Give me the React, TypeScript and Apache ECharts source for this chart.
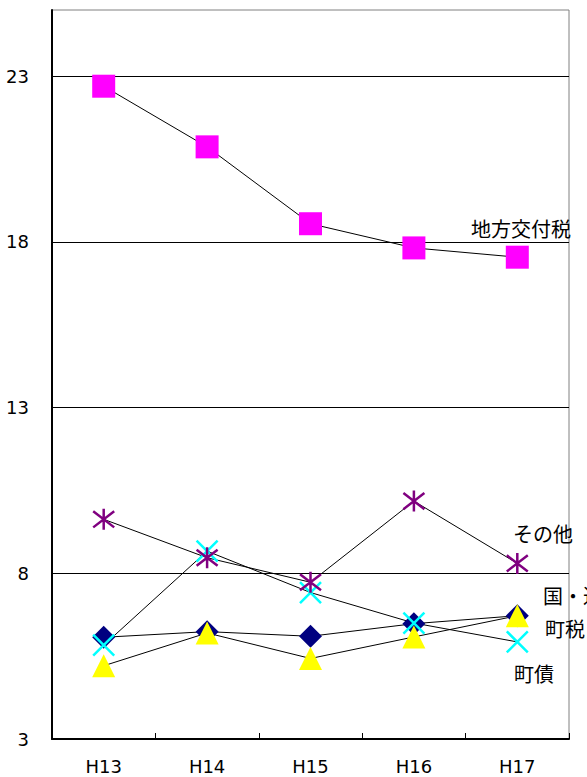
import React, { useEffect, useRef } from "react";
import * as echarts from "echarts";

const categories = ["H13", "H14", "H15", "H16", "H17"];
const yTicks = { min: 3, max: 25, interval: 5 };

const seriesNames = ["町税", "地方交付税", "国・道支出金", "町債", "その他"];
const chozei = [6.07, 6.24, 6.1, 6.48, 6.72];
const chihoKofuzei = [22.7, 20.87, 18.55, 17.82, 17.54];
const kokuDoShishutsukin = [5.21, 6.2, 5.43, 6.08, 6.72];
const chosai = [5.83, 8.67, 7.42, 6.5, 5.93];
const sonota = [9.63, 8.47, 7.73, 10.18, 8.3];

// label anchor positions (pixels) for the right-side series names
const labelPos = [
  { name: "地方交付税", x: 471, y: 228 },
  { name: "その他", x: 513, y: 533 },
  { name: "国・道支出金", x: 543, y: 595 },
  { name: "町税", x: 545, y: 628 },
  { name: "町債", x: 514, y: 673 },
];

const CJK = '"Noto Sans CJK JP", "Noto Sans", sans-serif';

export default function App() {
  const ref = useRef<HTMLDivElement>(null);
  useEffect(() => {
    if (!ref.current) return;
    const chart = echarts.init(ref.current, undefined, { renderer: "svg" });

    const datasets = [
      { name: seriesNames[0], data: chozei, symbol: "diamond", size: 23, fill: "#000080", stroke: null as string | null },
      { name: seriesNames[1], data: chihoKofuzei, symbol: "rect", size: 23, fill: "#FF00FF", stroke: null },
      { name: seriesNames[2], data: kokuDoShishutsukin, symbol: "triangle", size: 23, fill: "#FFFF00", stroke: null },
      { name: seriesNames[3], data: chosai, symbol: "path://M0,0L10,10M10,0L0,10", size: 21, fill: "transparent", stroke: "#00FFFF" },
      { name: seriesNames[4], data: sonota, symbol: "path://M0,0L10,10M10,0L0,10M5,-1.5L5,11.5", size: 21, fill: "transparent", stroke: "#800080" },
    ];

    const lineSeries = datasets.map((d) => ({
      type: "line",
      name: d.name + "-line",
      data: d.data,
      symbol: "none",
      lineStyle: { color: "#000", width: 1 },
      z: 2,
      silent: true,
    }));
    const markerSeries = datasets.map((d, i) => ({
      type: "scatter",
      name: d.name,
      data: d.data,
      symbol: d.symbol,
      symbolSize: d.size,
      itemStyle: d.stroke
        ? { color: "transparent", borderColor: d.stroke, borderWidth: 2.5, opacity: 1 }
        : { color: d.fill, opacity: 1 },
      z: 3 + i,
    }));

    chart.setOption({
      animation: false,
      backgroundColor: "#fff",
      grid: {
        left: 52,
        right: 18,
        top: 10,
        bottom: 38,
        show: true,
        borderColor: "#808080",
        borderWidth: 1,
        backgroundColor: "transparent",
      },
      xAxis: {
        type: "category",
        data: categories,
        boundaryGap: true,
        axisLine: { show: true, lineStyle: { color: "#000", width: 2 } },
        axisTick: { show: true, inside: true, length: 6, lineStyle: { color: "#000", width: 1 } },
        axisLabel: {
          color: "#000",
          fontSize: 18,
          fontFamily: '"DejaVu Sans", sans-serif',
          margin: 18,
        },
        splitLine: { show: false },
      },
      yAxis: {
        type: "value",
        min: yTicks.min,
        max: yTicks.max,
        interval: yTicks.interval,
        axisLine: { show: true, lineStyle: { color: "#000", width: 2 } },
        axisTick: { show: false },
        axisLabel: {
          color: "#000",
          fontSize: 18,
          fontFamily: '"DejaVu Sans", sans-serif',
          margin: 23,
          formatter: (v: number) => (v === yTicks.max ? "" : String(v)),
        },
        splitLine: { show: true, showMinLine: false, showMaxLine: false, lineStyle: { color: "#000", width: 1 } },
      },
      series: [...lineSeries, ...markerSeries],
      graphic: labelPos.map((l) => ({
        type: "text",
        x: l.x,
        y: l.y,
        z: 100,
        style: {
          text: l.name,
          fill: "#000",
          fontSize: 20,
          fontFamily: CJK,
          align: "left",
          verticalAlign: "middle",
        },
      })),
    });
    return () => chart.dispose();
  }, []);
  return (
    <div
      ref={ref}
      style={{ position: "absolute", left: 0, top: 0, width: 587, height: 777 }}
    />
  );
}
